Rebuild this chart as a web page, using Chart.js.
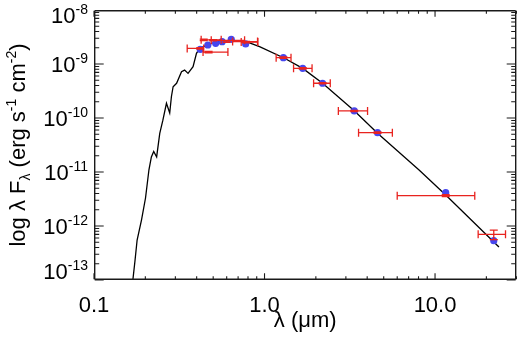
<!DOCTYPE html>
<html><head><meta charset="utf-8">
<script src="https://cdn.jsdelivr.net/npm/chart.js@4.4.1/dist/chart.umd.min.js"></script>
<style>html,body{margin:0;padding:0;background:#fff;overflow:hidden;}#wrap{width:520px;height:343px;}canvas{display:block;}</style>
</head><body><div id="wrap"><canvas id="c" width="520" height="343"></canvas></div>
<script>
// Model spectrum (wavelength in micron, lambda F_lambda in erg s^-1 cm^-2)
const modelLam  = [0.169,0.174,0.179,0.190,0.2005,0.210,0.217,0.224,0.233,0.243,0.2535,0.266,0.278,0.2845,0.291,0.305,0.326,0.340,0.356,0.381,0.399,0.417,0.477,0.560,0.668,0.795,0.935,1.31,1.675,2.19,3.36,4.60,8.06,11.55,23.7];
const modelFlux = [1.0e-13,2.3e-13,5.5e-13,1.3e-12,3.3e-12,1.1e-11,1.9e-11,2.4e-11,1.9e-11,5.2e-11,9.1e-11,1.87e-10,1.24e-10,2.5e-10,3.8e-10,4.4e-10,7.2e-10,7.7e-10,6.7e-10,8.9e-10,1.58e-9,1.95e-9,2.35e-9,2.67e-9,2.72e-9,2.55e-9,2.09e-9,1.28e-9,8.3e-10,4.4e-10,1.36e-10,5.2e-11,1.09e-11,3.75e-12,4.1e-13];

// Synthetic model photometry (blue dots)
const photLam   = [0.42,0.465,0.517,0.564,0.638,0.775,1.29,1.675,2.19,3.36,4.60,11.55,22.1];
const photModel = [1.86e-9,2.25e-9,2.41e-9,2.59e-9,2.86e-9,2.35e-9,1.31e-9,8.3e-10,4.4e-10,1.35e-10,5.35e-11,4.14e-12,5.35e-13];

// Observed photometry (red error bars)
const obsLam    = [0.42,0.44,0.47,0.50,0.60,0.78,1.29,1.675,2.19,3.36,4.60,11.55,22.1];
const obsLamLo  = [0.352,0.425,0.436,0.487,0.65,0.73,1.17,1.48,1.94,2.71,3.56,6.0,17.9];
const obsLamHi  = [0.440,0.557,0.61,0.764,0.91,0.914,1.43,1.90,2.43,4.02,5.62,17.1,25.9];
const obsFlux   = [1.94e-9,2.80e-9,1.66e-9,2.75e-9,2.60e-9,2.55e-9,1.31e-9,8.3e-10,4.4e-10,1.35e-10,5.35e-11,3.64e-12,7.0e-13];
const obsFluxErr= [6e-11,8e-11,5e-11,8e-11,8e-11,8e-11,4e-11,2.5e-11,1.3e-11,4e-12,1.6e-12,1.5e-13,1.4e-13];

// Axis ticks
const xTickVals   = [0.1,1,10];
const xTickLabels = ['0.1','1.0','10.0'];
const yTickVals   = [1e-8,1e-9,1e-10,1e-11,1e-12,1e-13];
const yTickExps   = ['-8','-9','-10','-11','-12','-13'];

const RED = '#e8231f', BLUE = '#4646ee';
const FONT = '"Liberation Sans", Arial, Helvetica, sans-serif';

const errPlugin = {
  id: 'errbars',
  afterDatasetsDraw(chart) {
    const {ctx, chartArea: a, scales:{x, y}} = chart;
    ctx.save();
    ctx.strokeStyle = RED; ctx.lineWidth = 1.3;
    const cap = 4;
    for (let i = 0; i < obsLam.length; i++) {
      const px = x.getPixelForValue(obsLam[i]);
      const py = y.getPixelForValue(obsFlux[i]);
      const x0 = x.getPixelForValue(obsLamLo[i]);
      const x1 = x.getPixelForValue(obsLamHi[i]);
      const y0 = y.getPixelForValue(obsFlux[i] + obsFluxErr[i]);
      const y1 = y.getPixelForValue(obsFlux[i] - obsFluxErr[i]);
      ctx.beginPath();
      ctx.moveTo(x0, py); ctx.lineTo(x1, py);
      ctx.moveTo(x0, py - cap); ctx.lineTo(x0, py + cap);
      ctx.moveTo(x1, py - cap); ctx.lineTo(x1, py + cap);
      ctx.moveTo(px, y0); ctx.lineTo(px, y1);
      ctx.moveTo(px - cap, y0); ctx.lineTo(px + cap, y0);
      ctx.moveTo(px - cap, y1); ctx.lineTo(px + cap, y1);
      ctx.stroke();
    }
    // frame and inward ticks, same drawing path as the error bars
    ctx.strokeStyle = '#1a1a1a'; ctx.lineWidth = 1.4;
    const L = a.left + 0.7, R = a.right - 0.7, T = a.top + 0.7, B = a.bottom - 0.7;
    ctx.beginPath();
    ctx.moveTo(L, T); ctx.lineTo(R, T);
    ctx.moveTo(R, T); ctx.lineTo(R, B);
    ctx.moveTo(R, B); ctx.lineTo(L, B);
    ctx.moveTo(L, B); ctx.lineTo(L, T);
    ctx.stroke();
    ctx.lineWidth = 1.1;
    ctx.beginPath();
    for (let d = -1; d <= 1; d++) {
      for (let m = 1; m <= 9; m++) {
        const v = m * Math.pow(10, d);
        if (v > x.max * 1.0001) continue;
        const px = x.getPixelForValue(v);
        const len = m === 1 ? 6 : 3;
        ctx.moveTo(px, B); ctx.lineTo(px, B - len);
        ctx.moveTo(px, T); ctx.lineTo(px, T + len);
      }
    }
    for (let d = -13; d <= -9; d++) {
      for (let m = 1; m <= 9; m++) {
        const v = m * Math.pow(10, d);
        const py = y.getPixelForValue(v);
        const len = m === 1 ? 9 : 4.5;
        ctx.moveTo(L, py); ctx.lineTo(L + len, py);
        ctx.moveTo(R, py); ctx.lineTo(R - len, py);
      }
    }
    ctx.stroke();
    ctx.restore();
  }
};

const textPlugin = {
  id: 'idltext',
  afterDraw(chart) {
    const {ctx, chartArea: a, scales: {x, y}} = chart;
    ctx.save();
    ctx.fillStyle = '#000';
    ctx.font = '22px ' + FONT;
    ctx.textAlign = 'center'; ctx.textBaseline = 'alphabetic';
    xTickVals.forEach((v, i) => {
      ctx.fillText(xTickLabels[i], x.getPixelForValue(v), a.bottom + 31.5);
    });
    yTickVals.forEach((v, i) => {
      let base = y.getPixelForValue(v) + 8;
      if (i === 0) base = y.getPixelForValue(v) + 13.3;
      if (i === yTickVals.length - 1) base = y.getPixelForValue(v) - 1.5;
      ctx.font = '14px ' + FONT;
      const ew = ctx.measureText(yTickExps[i]).width;
      const xr = a.left - 6;
      ctx.textAlign = 'right';
      ctx.fillText(yTickExps[i], xr, base - 9);
      ctx.font = '22px ' + FONT;
      ctx.fillText('10', xr - ew, base);
    });
    ctx.font = '22px ' + FONT;
    ctx.textAlign = 'center';
    ctx.fillText('\u03bb (\u03bcm)', (a.left + a.right) / 2, 327);

    const parts = [
      {t: 'log \u03bb F', s: 22, dy: 0},
      {t: '\u03bb', s: 14, dy: 5},
      {t: ' (erg s', s: 22, dy: 0},
      {t: '-1', s: 14, dy: -9},
      {t: ' cm', s: 22, dy: 0},
      {t: '-2', s: 14, dy: -9},
      {t: ')', s: 22, dy: 0}
    ];
    let total = 0;
    parts.forEach(p => { ctx.font = p.s + 'px ' + FONT; p.w = ctx.measureText(p.t).width; total += p.w; });
    ctx.translate(25, (a.top + a.bottom) / 2);
    ctx.rotate(-Math.PI / 2);
    ctx.textAlign = 'left';
    let cx = -total / 2;
    parts.forEach(p => { ctx.font = p.s + 'px ' + FONT; ctx.fillText(p.t, cx, p.dy); cx += p.w; });
    ctx.restore();
  }
};

new Chart(document.getElementById('c'), {
  type: 'scatter',
  data: {
    datasets: [
      {
        label: 'model photometry',
        data: photLam.map((l, i) => ({x: l, y: photModel[i]})),
        backgroundColor: BLUE, borderColor: BLUE, borderWidth: 0,
        pointRadius: 3.6, pointHoverRadius: 3.6, order: 0
      },
      {
        label: 'model',
        type: 'line',
        data: modelLam.map((l, i) => ({x: l, y: modelFlux[i]})),
        borderColor: '#000', borderWidth: 1.3, pointRadius: 0, fill: false,
        tension: 0, order: 1
      }
    ]
  },
  options: {
    responsive: false, animation: false, devicePixelRatio: 1,
    layout: {padding: {left: 0, right: 3, top: 10, bottom: 0}},
    plugins: {legend: {display: false}, tooltip: {enabled: false}},
    scales: {
      x: {
        type: 'logarithmic', min: 0.1, max: 30,
        grid: {display: false}, border: {display: false},
        ticks: {display: false},
        afterFit: s => { s.height = 63; }
      },
      y: {
        type: 'logarithmic', min: 1e-13, max: 1e-8,
        grid: {display: false}, border: {display: false},
        ticks: {display: false},
        afterFit: s => { s.width = 94; }
      }
    }
  },
  plugins: [errPlugin, textPlugin]
});
</script></body></html>
